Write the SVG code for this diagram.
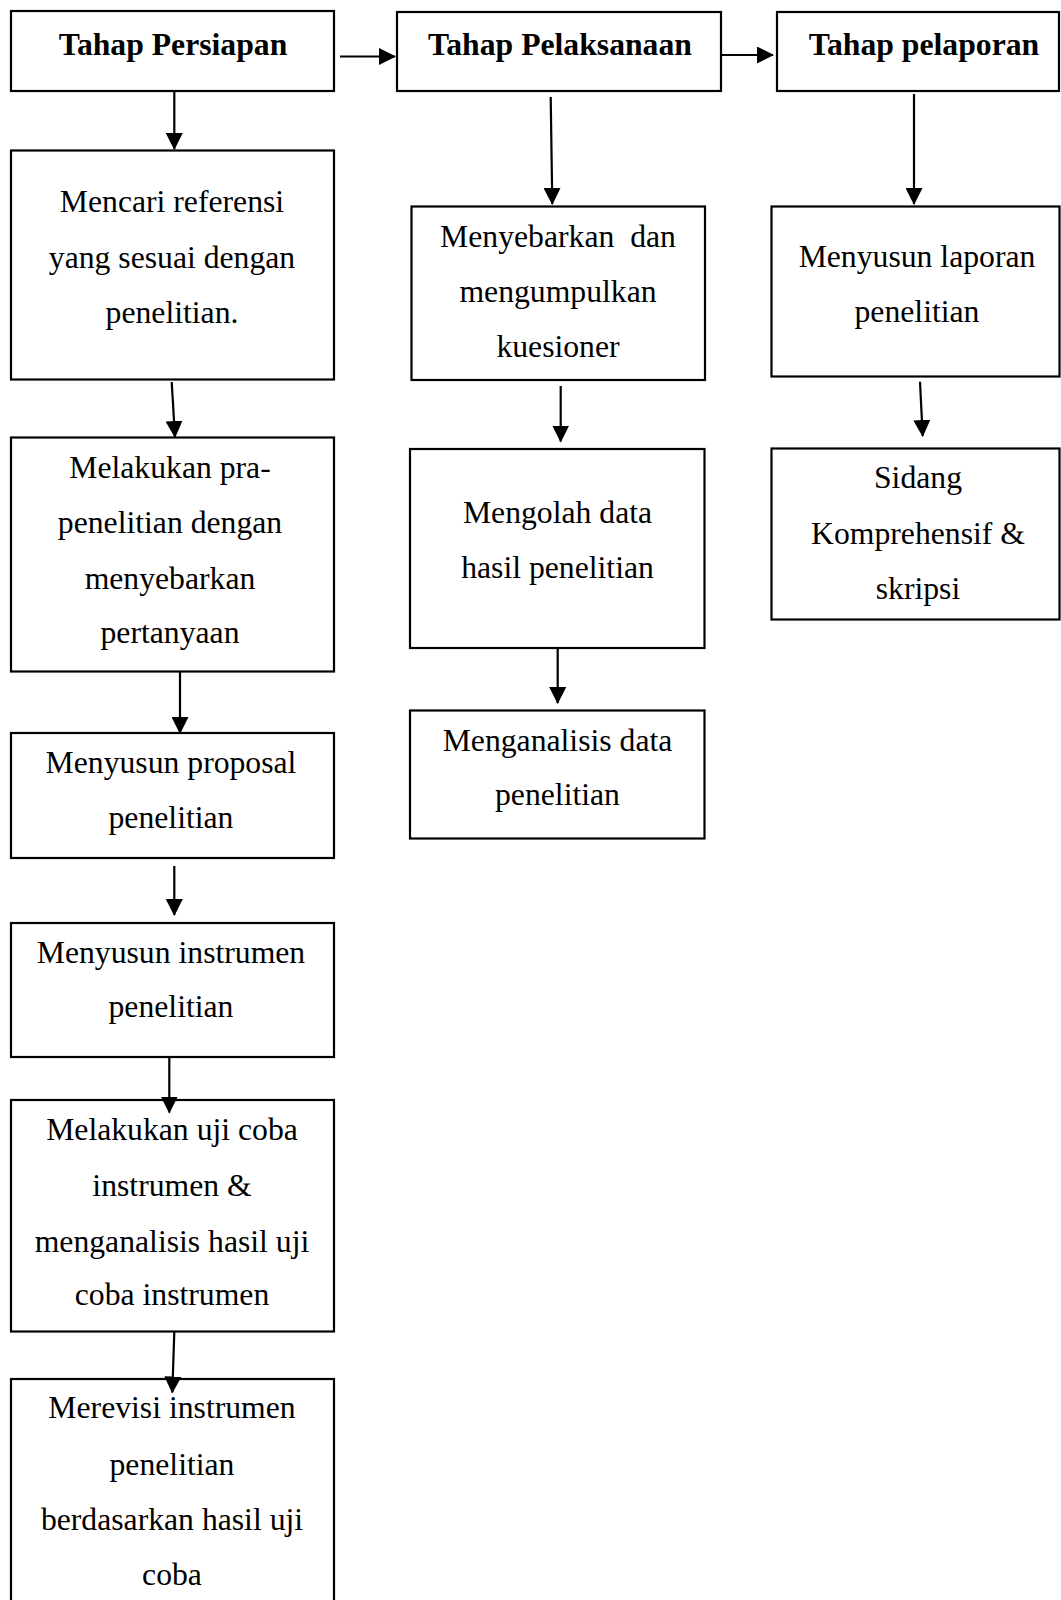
<svg xmlns="http://www.w3.org/2000/svg" width="1061" height="1600" viewBox="0 0 1061 1600">
<style>
.box{fill:#fff;stroke:#000;stroke-width:2.2}
.t{font-family:"Liberation Serif","Times New Roman",serif;font-size:31.7px;fill:#000;text-anchor:middle}
.b{font-weight:bold}
.c{stroke:#000;stroke-width:2.2;fill:none}
</style>
<defs>
<marker id="ah" markerUnits="userSpaceOnUse" markerWidth="17" markerHeight="17" refX="16" refY="8.5" orient="auto" viewBox="0 0 17 17">
<path d="M0,0 L17,8.5 L0,17 z" fill="#000"/>
</marker>
</defs>
<rect width="1061" height="1600" fill="#fff"/>

<g id="n_persiapan"><rect class="box" x="11" y="11" width="323" height="80"/><text class="t b" x="173" y="55">Tahap Persiapan</text></g>
<g id="n_pelaksanaan"><rect class="box" x="397" y="12" width="324" height="79"/><text class="t b" x="560" y="54.5">Tahap Pelaksanaan</text></g>
<g id="n_pelaporan"><rect class="box" x="777" y="12" width="282" height="79"/><text class="t b" x="924" y="54.5">Tahap pelaporan</text></g>

<g id="n_mencari"><rect class="box" x="11" y="150.5" width="323" height="229"/>
<text class="t" x="172" y="211.5">Mencari referensi</text>
<text class="t" x="172" y="268">yang sesuai dengan</text>
<text class="t" x="172" y="323">penelitian.</text></g>

<g id="n_pra"><rect class="box" x="11" y="437.5" width="323" height="234"/>
<text class="t" x="170" y="478">Melakukan pra-</text>
<text class="t" x="170" y="533">penelitian dengan</text>
<text class="t" x="170" y="589">menyebarkan</text>
<text class="t" x="170" y="643">pertanyaan</text></g>

<g id="n_proposal"><rect class="box" x="11" y="733" width="323" height="125"/>
<text class="t" x="171" y="773">Menyusun proposal</text>
<text class="t" x="171" y="828">penelitian</text></g>

<g id="n_instrumen"><rect class="box" x="11" y="923" width="323" height="134"/>
<text class="t" x="171" y="963">Menyusun instrumen</text>
<text class="t" x="171" y="1017">penelitian</text></g>

<g id="n_ujicoba"><rect class="box" x="11" y="1100" width="323" height="231.5"/>
<text class="t" x="172" y="1140">Melakukan uji coba</text>
<text class="t" x="172" y="1196">instrumen &amp;</text>
<text class="t" x="172" y="1251.5">menganalisis hasil uji</text>
<text class="t" x="172" y="1305">coba instrumen</text></g>

<g id="n_merevisi"><rect class="box" x="11" y="1379" width="323" height="240"/>
<text class="t" x="172" y="1418">Merevisi instrumen</text>
<text class="t" x="172" y="1475">penelitian</text>
<text class="t" x="172" y="1530">berdasarkan hasil uji</text>
<text class="t" x="172" y="1585">coba</text></g>

<g id="n_menyebarkan"><rect class="box" x="411.5" y="206.5" width="293.5" height="173.5"/>
<text class="t" x="558" y="246.5" xml:space="preserve">Menyebarkan  dan</text>
<text class="t" x="558" y="301.5">mengumpulkan</text>
<text class="t" x="558" y="356.5">kuesioner</text></g>

<g id="n_mengolah"><rect class="box" x="410" y="449" width="294.5" height="199"/>
<text class="t" x="557.5" y="523">Mengolah data</text>
<text class="t" x="557.5" y="578">hasil penelitian</text></g>

<g id="n_menganalisis"><rect class="box" x="410" y="710.5" width="294.5" height="128"/>
<text class="t" x="557.5" y="750.5">Menganalisis data</text>
<text class="t" x="557.5" y="805">penelitian</text></g>

<g id="n_laporan"><rect class="box" x="771.5" y="206.5" width="288" height="170"/>
<text class="t" x="917" y="267">Menyusun laporan</text>
<text class="t" x="917" y="322">penelitian</text></g>

<g id="n_sidang"><rect class="box" x="771.5" y="448.5" width="288" height="171"/>
<text class="t" x="918" y="488">Sidang</text>
<text class="t" x="918" y="544">Komprehensif &amp;</text>
<text class="t" x="918" y="599">skripsi</text></g>

<g id="connectors">
<line class="c" x1="174.3" y1="91" x2="174.3" y2="149" marker-end="url(#ah)"/>
<line class="c" x1="340" y1="56.5" x2="395" y2="56.5" marker-end="url(#ah)"/>
<line class="c" x1="721" y1="55" x2="773" y2="55" marker-end="url(#ah)"/>
<line class="c" x1="550.7" y1="97" x2="552.3" y2="204" marker-end="url(#ah)"/>
<line class="c" x1="914" y1="94" x2="914" y2="204" marker-end="url(#ah)"/>
<line class="c" x1="171.7" y1="382" x2="175" y2="437" marker-end="url(#ah)"/>
<line class="c" x1="180" y1="672" x2="180" y2="733" marker-end="url(#ah)"/>
<line class="c" x1="174.3" y1="866" x2="174.3" y2="915" marker-end="url(#ah)"/>
<line class="c" x1="169.3" y1="1057" x2="169.3" y2="1112.5" marker-end="url(#ah)"/>
<line class="c" x1="174.3" y1="1332" x2="172.3" y2="1392.5" marker-end="url(#ah)"/>
<line class="c" x1="560.7" y1="386" x2="560.7" y2="441.5" marker-end="url(#ah)"/>
<line class="c" x1="557.7" y1="648" x2="557.7" y2="703" marker-end="url(#ah)"/>
<line class="c" x1="920" y1="381.7" x2="922.7" y2="436" marker-end="url(#ah)"/>
</g>
</svg>
